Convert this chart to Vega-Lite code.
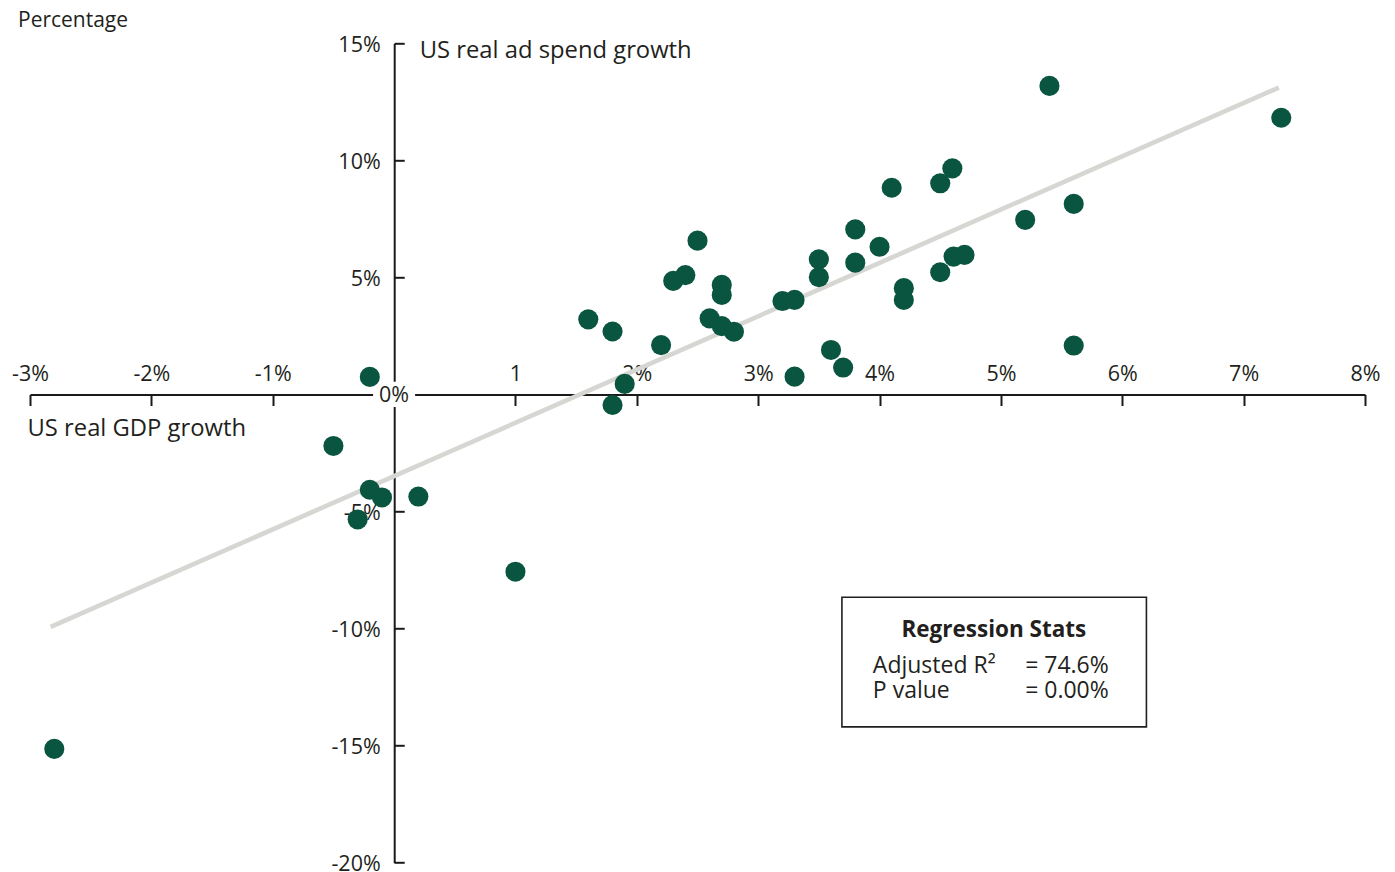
{
  "$schema": "https://vega.github.io/schema/vega-lite/v6.json",
  "width": 1335,
  "height": 819.4,
  "autosize": {"type": "none"},
  "padding": {"left": 30, "top": 43.3, "right": 30, "bottom": 9},
  "background": "white",
  "view": {"stroke": null},
  "config": {
    "font": "Open Sans",
    "text": {"font": "Open Sans", "color": "#231f20"}
  },
  "title": {
    "text": "Percentage",
    "anchor": "start",
    "frame": "group",
    "font": "Open Sans",
    "fontSize": 21,
    "fontWeight": "normal",
    "color": "#231f20",
    "offset": 0,
    "dx": -12,
    "dy": -3
  },
  "datasets": {
    "growth": [
      {"gdp": 5.40, "adspend": 13.18},
      {"gdp": 7.31, "adspend": 11.82},
      {"gdp": 4.60, "adspend": 9.66},
      {"gdp": 4.50, "adspend": 9.02},
      {"gdp": 4.10, "adspend": 8.83},
      {"gdp": 5.60, "adspend": 8.14},
      {"gdp": 5.20, "adspend": 7.46},
      {"gdp": 3.80, "adspend": 7.05},
      {"gdp": 2.50, "adspend": 6.57},
      {"gdp": 4.00, "adspend": 6.31},
      {"gdp": 3.50, "adspend": 5.77},
      {"gdp": 4.61, "adspend": 5.89},
      {"gdp": 4.70, "adspend": 5.96},
      {"gdp": 3.80, "adspend": 5.63},
      {"gdp": 3.50, "adspend": 5.01},
      {"gdp": 2.40, "adspend": 5.10},
      {"gdp": 2.30, "adspend": 4.85},
      {"gdp": 2.70, "adspend": 4.68},
      {"gdp": 2.70, "adspend": 4.25},
      {"gdp": 4.20, "adspend": 4.54},
      {"gdp": 4.50, "adspend": 5.22},
      {"gdp": 4.20, "adspend": 4.04},
      {"gdp": 3.20, "adspend": 3.99},
      {"gdp": 3.30, "adspend": 4.04},
      {"gdp": 1.60, "adspend": 3.21},
      {"gdp": 2.60, "adspend": 3.25},
      {"gdp": 2.70, "adspend": 2.92},
      {"gdp": 2.80, "adspend": 2.68},
      {"gdp": 1.80, "adspend": 2.69},
      {"gdp": 2.20, "adspend": 2.11},
      {"gdp": 5.60, "adspend": 2.09},
      {"gdp": 3.60, "adspend": 1.90},
      {"gdp": 3.70, "adspend": 1.15},
      {"gdp": 3.30, "adspend": 0.76},
      {"gdp": -0.20, "adspend": 0.75},
      {"gdp": 1.90, "adspend": 0.45},
      {"gdp": 1.80, "adspend": -0.45},
      {"gdp": -0.50, "adspend": -2.20},
      {"gdp": -0.20, "adspend": -4.07},
      {"gdp": -0.10, "adspend": -4.40},
      {"gdp": 0.20, "adspend": -4.36},
      {"gdp": -0.30, "adspend": -5.34},
      {"gdp": 1.00, "adspend": -7.57},
      {"gdp": -2.80, "adspend": -15.14}
    ],
    "fit": [
      {"gdp": -2.83, "adspend": -9.93},
      {"gdp": 7.29, "adspend": 13.11}
    ],
    "origin": [
      {"gdp": 0, "adspend": 0, "label": "0%"}
    ],
    "statsBox": [
      {"gdp": 3.690, "adspend": -8.663, "gdp_end": 6.199, "adspend_end": -14.20}
    ],
    "statsHead": [
      {"gdp": 4.942, "adspend": -10.35, "label": "Regression Stats"}
    ],
    "statsBody": [
      {"gdp": 3.945, "adspend": -11.91, "label": "Adjusted R²"},
      {"gdp": 5.20, "adspend": -11.91, "label": "= 74.6%"},
      {"gdp": 3.945, "adspend": -12.98, "label": "P value"},
      {"gdp": 5.20, "adspend": -12.98, "label": "= 0.00%"}
    ]
  },
  "encoding": {
    "x": {
      "field": "gdp",
      "type": "quantitative",
      "scale": {"domain": [-3, 8], "nice": false, "zero": false},
      "axis": {
        "orient": "top",
        "offset": -351.2,
        "values": [-3, -2, -1, 0, 1, 2, 3, 4, 5, 6, 7, 8],
        "labelExpr": "datum.value == 0 ? '' : (datum.value == 1 ? '1' : datum.value + '%')",
        "grid": false,
        "domainColor": "#1a1a1a",
        "domainWidth": 2,
        "tickColor": "#1a1a1a",
        "tickWidth": 2,
        "tickSize": -11,
        "labelPadding": 25,
        "labelBaseline": "alphabetic",
        "labelFont": "Open Sans",
        "labelFontSize": 21.5,
        "labelColor": "#231f20",
        "labelFlush": false,
        "labelOverlap": false,
        "title": "US real GDP growth",
        "titleFont": "Open Sans",
        "titleFontSize": 23.8,
        "titleFontWeight": "normal",
        "titleColor": "#231f20",
        "titleAngle": 0,
        "titleAlign": "left",
        "titleBaseline": "alphabetic",
        "titleX": -3,
        "titleY": 41.5
      }
    },
    "y": {
      "field": "adspend",
      "type": "quantitative",
      "scale": {"domain": [-20, 15], "nice": false, "zero": false},
      "axis": {
        "orient": "left",
        "offset": -364.2,
        "values": [-20, -15, -10, -5, 0, 5, 10, 15],
        "labelExpr": "datum.value == 0 ? '' : datum.value + '%'",
        "grid": false,
        "domainColor": "#1a1a1a",
        "domainWidth": 2,
        "tickColor": "#1a1a1a",
        "tickWidth": 2,
        "tickSize": -10,
        "labelPadding": 24,
        "labelOffset": 2,
        "labelFont": "Open Sans",
        "labelFontSize": 21.5,
        "labelColor": "#231f20",
        "labelOverlap": false,
        "title": "US real ad spend growth",
        "titleFont": "Open Sans",
        "titleFontSize": 23.8,
        "titleFontWeight": "normal",
        "titleColor": "#231f20",
        "titleAngle": 0,
        "titleAlign": "left",
        "titleBaseline": "alphabetic",
        "titleX": 25,
        "titleY": 14
      }
    }
  },
  "layer": [
    {
      "data": {"name": "fit"},
      "mark": {"type": "line", "color": "#d6d6d3", "strokeWidth": 4.6, "strokeCap": "butt"},
      "encoding": {}
    },
    {
      "data": {"name": "origin"},
      "mark": {"type": "point", "shape": "M-1,-0.6H1V0.6H-1Z", "filled": true, "fill": "white", "strokeWidth": 0, "opacity": 1, "size": 1764},
      "encoding": {}
    },
    {
      "data": {"name": "origin"},
      "mark": {"type": "text", "fontSize": 21.5, "align": "center", "baseline": "middle", "dy": 2, "color": "#231f20"},
      "encoding": {"text": {"field": "label"}}
    },
    {
      "data": {"name": "growth"},
      "mark": {"type": "circle", "size": 405, "color": "#0a5540", "opacity": 1},
      "encoding": {}
    },
    {
      "data": {"name": "statsBox"},
      "mark": {"type": "rect", "fill": "white", "stroke": "#231f20", "strokeWidth": 1.6},
      "encoding": {
        "x2": {"field": "gdp_end"},
        "y2": {"field": "adspend_end"}
      }
    },
    {
      "data": {"name": "statsHead"},
      "mark": {"type": "text", "fontSize": 22.5, "fontWeight": "bold", "align": "center", "baseline": "alphabetic", "color": "#231f20"},
      "encoding": {"text": {"field": "label"}}
    },
    {
      "data": {"name": "statsBody"},
      "mark": {"type": "text", "fontSize": 23, "align": "left", "baseline": "alphabetic", "color": "#231f20"},
      "encoding": {"text": {"field": "label"}}
    }
  ]
}
